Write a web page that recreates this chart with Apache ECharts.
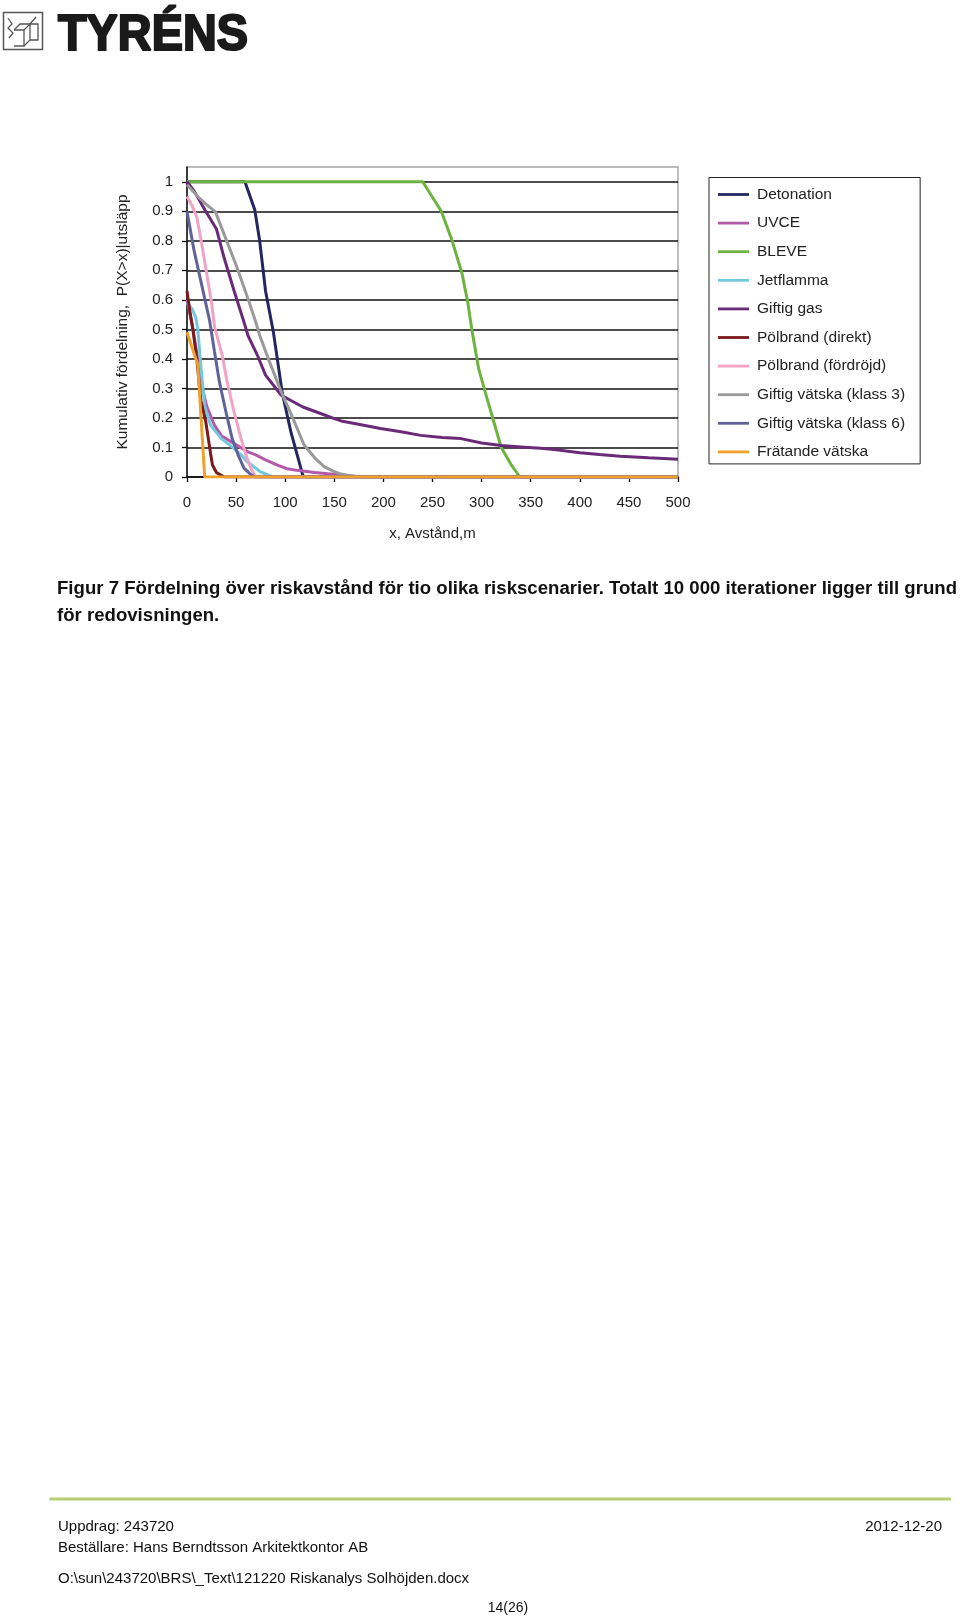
<!DOCTYPE html>
<html>
<head>
<meta charset="utf-8">
<script src="https://cdn.jsdelivr.net/npm/echarts@6/dist/echarts.min.js"></script>
<style>
html,body{margin:0;padding:0;background:#fff;}
#chart{width:960px;height:1619px;}
</style>
</head>
<body>
<div id="chart"></div>
<script>
// ---------- DATA ----------
const seriesNames = ['Detonation','UVCE','BLEVE','Jetflamma','Giftig gas','Pölbrand (direkt)','Pölbrand (fördröjd)','Giftig vätska (klass 3)','Giftig vätska (klass 6)','Frätande vätska'];
const seriesColors = ['#25255F','#B45AAA','#6DB33F','#72C8DD','#6B2A78','#7A1A1C','#F2A3C4','#9A9A9A','#5F6399','#F0A02C'];

// [distance m, P(X>x)]
const detonation = [[0,1],[59,1],[69,0.905],[74,0.8],[80,0.63],[88,0.49],[97,0.285],[106,0.15],[118,0.005],[121,0],[500,0]];
const uvce = [[0,0.6],[5,0.52],[10,0.42],[15,0.31],[20,0.24],[28,0.175],[35,0.14],[48,0.113],[62,0.085],[70,0.075],[80,0.058],[92,0.04],[102,0.028],[110,0.024],[130,0.015],[146,0.01],[165,0.004],[180,0],[500,0]];
const bleve = [[0,1],[240,1],[259,0.9],[270,0.8],[280,0.69],[286,0.59],[290,0.5],[297,0.367],[304,0.283],[310,0.215],[320,0.1],[330,0.042],[339,0],[500,0]];
const jetflamma = [[0,0.59],[5,0.57],[9,0.54],[11,0.5],[14,0.38],[18,0.24],[24,0.175],[35,0.13],[48,0.096],[55,0.075],[62,0.05],[75,0.017],[87,0],[500,0]];
const giftigGas = [[0,1],[7,0.97],[19,0.9],[30,0.84],[38,0.74],[48,0.63],[58,0.525],[62,0.48],[72,0.41],[80,0.345],[96,0.277],[118,0.237],[136,0.215],[150,0.198],[157,0.19],[180,0.175],[197,0.164],[218,0.153],[238,0.141],[260,0.134],[279,0.13],[300,0.115],[320,0.107],[340,0.102],[360,0.097],[374,0.093],[400,0.082],[420,0.076],[441,0.07],[470,0.065],[500,0.06]];
const polbrandDirekt = [[0,0.63],[3,0.56],[6,0.5],[10,0.4],[14,0.26],[19,0.19],[24,0.08],[26,0.04],[30,0.015],[38,0],[500,0]];
const polbrandFordrojd = [[0,0.95],[5,0.92],[10,0.88],[15,0.79],[20,0.69],[25,0.59],[28,0.51],[36,0.41],[41,0.32],[48,0.22],[55,0.13],[60,0.075],[65,0.03],[69,0.005],[72,0],[500,0]];
const giftigVatska3 = [[0,0.99],[11,0.95],[19,0.925],[29,0.898],[38,0.82],[50,0.718],[62,0.605],[70,0.525],[74,0.48],[84,0.39],[96,0.288],[108,0.198],[119,0.11],[130,0.065],[140,0.034],[150,0.018],[157,0.01],[170,0.002],[177,0],[500,0]];
const giftigVatska6 = [[0,0.9],[7,0.77],[12,0.695],[18,0.605],[23,0.53],[28,0.424],[33,0.322],[40,0.215],[46,0.13],[52,0.075],[58,0.03],[65,0.008],[69,0],[500,0]];
const fratandeVatska = [[0,0.49],[11,0.38],[18,0],[500,0]];

const allSeriesData = [detonation, uvce, bleve, jetflamma, giftigGas, polbrandDirekt, polbrandFordrojd, giftigVatska3, giftigVatska6, fratandeVatska];

const yTickValues = [0,0.1,0.2,0.3,0.4,0.5,0.6,0.7,0.8,0.9,1];

const yAxisTitle = 'Kumulativ fördelning,  P(X>x)|utsläpp';
const xAxisTitle = 'x, Avstånd,m';
const captionLine1 = 'Figur 7 Fördelning över riskavstånd för tio olika riskscenarier. Totalt 10 000 iterationer ligger till grund';
const captionLine2 = 'för redovisningen.';
const footerLeft = ['Uppdrag: 243720', 'Beställare: Hans Berndtsson Arkitektkontor AB', 'O:\\sun\\243720\\BRS\\_Text\\121220 Riskanalys Solhöjden.docx'];
const footerDate = '2012-12-20';
const pageNo = '14(26)';
const logoText = 'TYRÉNS';

// ---------- helpers ----------
const FONT = '"Liberation Sans", Arial, sans-serif';
const mctx = document.createElement('canvas').getContext('2d');
function fitScale(text, font, target){
  mctx.font = font;
  const w = mctx.measureText(text).width;
  return w > 0 ? target / w : 1;
}

const chart = echarts.init(document.getElementById('chart'), null, {renderer:'canvas'});

const capFont = 'bold 18px ' + FONT;
const capScale = fitScale(captionLine1, capFont, 900);
const logoFont = 'bold 50px ' + FONT;
const logoScale = fitScale(logoText, logoFont, 190);
const footFont = '15px ' + FONT;

const graphics = [
  // logo icon
  {type:'rect', shape:{x:3.5,y:12.5,width:39,height:37}, style:{fill:'none', stroke:'#555', lineWidth:1.5}},
  {type:'polyline', shape:{points:[[8,18],[12,24],[8,28],[13,33],[9,38]]}, style:{fill:'none', stroke:'#555', lineWidth:1.3}},
  {type:'polyline', shape:{points:[[14,30],[24,30],[24,46],[14,46]]}, style:{fill:'none', stroke:'#555', lineWidth:1.3}},
  {type:'polyline', shape:{points:[[24,30],[30,24],[30,40],[24,46]]}, style:{fill:'none', stroke:'#555', lineWidth:1.3}},
  {type:'polyline', shape:{points:[[30,24],[38,24],[38,40],[30,40]]}, style:{fill:'none', stroke:'#555', lineWidth:1.3}},
  {type:'polyline', shape:{points:[[14,30],[20,24],[30,24]]}, style:{fill:'none', stroke:'#555', lineWidth:1.3}},
  {type:'polyline', shape:{points:[[30,24],[36,17]]}, style:{fill:'none', stroke:'#555', lineWidth:1.3}},
  // logo text
  {type:'text', x:58, y:61, scaleX:logoScale, style:{text:logoText, font:logoFont, fill:'#1a1a1a', stroke:'#1a1a1a', lineWidth:2.2, align:'left', verticalAlign:'bottom'}},
  // caption
  {type:'text', x:57, y:589, scaleX:capScale, style:{text:captionLine1, font:capFont, fill:'#111', align:'left', verticalAlign:'middle'}},
  {type:'text', x:57, y:616, scaleX:capScale, style:{text:captionLine2, font:capFont, fill:'#111', align:'left', verticalAlign:'middle'}},
  // footer
  {type:'line', shape:{x1:49.5,y1:1499,x2:951,y2:1499}, style:{stroke:'#B9CD72', lineWidth:3}},
  {type:'text', x:58, y:1527, style:{text:footerLeft[0], font:footFont, fill:'#111', align:'left', verticalAlign:'middle'}},
  {type:'text', x:58, y:1548, style:{text:footerLeft[1], font:footFont, fill:'#111', align:'left', verticalAlign:'middle'}},
  {type:'text', x:58, y:1579, style:{text:footerLeft[2], font:footFont, fill:'#111', align:'left', verticalAlign:'middle'}},
  {type:'text', x:942, y:1527, style:{text:footerDate, font:footFont, fill:'#111', align:'right', verticalAlign:'middle'}},
  {type:'text', x:508, y:1608, style:{text:pageNo, font:'14px '+FONT, fill:'#111', align:'center', verticalAlign:'middle'}}
];

const gridColors = [];
for (let i = 0; i < 11; i++) gridColors.push('#111');
gridColors.push('#A6A6A6');

const option = {
  animation:false,
  backgroundColor:'#fff',
  textStyle:{fontFamily:FONT},
  grid:{left:187, top:167, width:491, height:310, show:true, borderColor:'#A6A6A6', borderWidth:1.5, backgroundColor:'#fff'},
  legend:{
    orient:'vertical', left:709, top:177.5, itemWidth:31, itemHeight:14, itemGap:12.6,
    icon:'path://M0,0 L31,0 L31,2.8 L0,2.8 Z',
    padding:[9,15,4,9], borderColor:'#222', borderWidth:1, backgroundColor:'#fff',
    textStyle:{fontSize:15.5, color:'#222', fontFamily:FONT, padding:[0,0,0,3]},
    data:seriesNames
  },
  xAxis:{
    type:'value', min:0, max:500, interval:50,
    name:xAxisTitle, nameLocation:'middle', nameGap:49,
    nameTextStyle:{fontSize:15, color:'#222'},
    axisLine:{show:true, lineStyle:{color:'#111', width:1.5}},
    axisTick:{show:true, length:5, lineStyle:{color:'#111', width:1.3}},
    axisLabel:{fontSize:15, color:'#222', margin:18},
    splitLine:{show:false}
  },
  yAxis:{
    type:'value', min:0, max:1.05, interval:0.1,
    name:yAxisTitle, nameLocation:'middle', nameGap:56, nameRotate:90,
    nameTextStyle:{fontSize:15.5, color:'#222'},
    axisLine:{show:true, lineStyle:{color:'#111', width:1.5}},
    axisTick:{show:true, length:5, lineStyle:{color:'#111', width:1.3}, customValues:yTickValues},
    axisLabel:{fontSize:15, color:'#222', margin:14, customValues:yTickValues, formatter:function(v){ return v > 1.001 ? '' : String(Math.round(v*10)/10); }},
    splitLine:{show:true, lineStyle:{color:gridColors, width:1.5}}
  },
  series: seriesNames.map(function(n, i){
    return {
      name:n, type:'line', data:allSeriesData[i], symbol:'none', showSymbol:false,
      color:seriesColors[i],
      lineStyle:{width:3, color:seriesColors[i]},
      itemStyle:{color:seriesColors[i]},
      emphasis:{disabled:true}, z:2
    };
  }),
  graphic:graphics
};
chart.setOption(option);
</script>
</body>
</html>
